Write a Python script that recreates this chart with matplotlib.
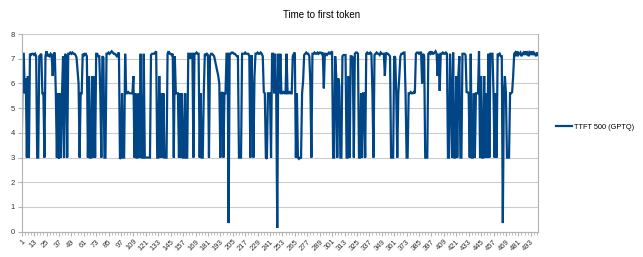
import matplotlib
matplotlib.use("Agg")
import matplotlib.pyplot as plt
from matplotlib.ticker import MultipleLocator

plt.rcParams["font.family"] = ["Liberation Sans", "DejaVu Sans"]

title = "Time to first token"
series_name = "TTFT 500 (GPTQ)"

ttft = [
    3.0, 7.2, 7.2, 5.6, 6.2, 3.0, 6.3, 3.0, 7.2, 7.15,
    7.2, 7.2, 7.15, 7.2, 7.1, 3.0, 3.0, 7.1, 7.15, 7.2,
    5.6, 5.6, 3.0, 7.1, 7.3, 7.1, 7.15, 7.1, 7.2, 7.15,
    6.3, 7.2, 7.25, 5.6, 3.0, 5.6, 2.95, 5.6, 3.0, 5.6,
    7.1, 3.0, 7.2, 7.1, 3.0, 7.2, 7.2, 7.25, 7.2, 7.25,
    7.2, 7.2, 7.15, 7.05, 6.5, 6.0, 3.0, 5.6, 5.6, 7.2,
    7.1, 7.2, 7.2, 7.1, 3.0, 6.3, 3.0, 3.0, 6.3, 3.0,
    6.3, 3.0, 7.2, 7.2, 7.1, 7.1, 5.6, 3.0, 7.1, 7.05,
    3.0, 3.0, 7.2, 7.2, 7.25, 7.2, 7.25, 7.3, 7.25, 7.2,
    7.2, 7.15, 7.1, 7.2, 7.25, 2.95, 3.0, 5.6, 3.0, 3.0,
    7.2, 5.6, 5.6, 5.65, 5.6, 5.6, 5.6, 5.6, 6.3, 3.0,
    5.6, 3.0, 3.0, 5.6, 3.0, 7.2, 3.0, 3.0, 7.2, 3.0,
    3.0, 3.0, 3.0, 3.0, 3.0, 7.15, 7.2, 7.2, 7.2, 7.25,
    7.3, 3.0, 3.0, 6.3, 3.0, 5.6, 3.0, 5.6, 3.0, 3.0,
    3.0, 7.2, 7.3, 7.2, 7.2, 7.15, 7.2, 3.0, 7.1, 5.6,
    5.6, 5.6, 3.0, 5.6, 3.0, 5.6, 3.0, 3.0, 5.6, 3.0,
    3.0, 7.2, 7.2, 7.0, 7.2, 7.2, 3.0, 7.2, 7.2, 7.25,
    7.2, 7.2, 3.0, 5.6, 3.0, 3.0, 5.6, 7.2, 7.15, 7.2,
    7.15, 3.0, 7.1, 7.2, 7.2, 7.15, 7.1, 6.9, 6.7, 6.5,
    6.3, 6.0, 3.0, 5.6, 5.65, 3.0, 5.6, 5.6, 7.2, 7.2,
    0.35, 7.2, 7.2, 7.25, 7.25, 7.2, 7.2, 7.15, 7.1, 7.1,
    3.0, 3.0, 3.0, 7.2, 7.2, 7.2, 7.25, 7.2, 7.2, 7.2,
    7.1, 3.0, 7.15, 5.6, 3.0, 6.3, 7.2, 7.2, 7.25, 7.2,
    7.2, 7.25, 7.2, 7.1, 5.65, 5.6, 3.0, 2.95, 5.6, 5.6,
    5.6, 3.0, 7.2, 7.2, 5.6, 7.2, 5.6, 0.15, 7.2, 5.6,
    7.2, 5.6, 5.6, 5.65, 5.6, 5.6, 7.2, 5.6, 5.6, 5.65,
    5.6, 5.6, 7.1, 7.2, 7.25, 3.0, 5.6, 3.0, 2.95, 3.0,
    3.0, 5.6, 6.1, 7.15, 7.2, 7.25, 7.2, 7.2, 7.1, 6.0,
    3.0, 7.2, 7.2, 7.25, 7.2, 7.2, 7.25, 7.2, 7.25, 7.25,
    7.2, 7.25, 5.8, 7.2, 7.2, 7.15, 7.2, 7.25, 7.2, 7.25,
    7.3, 3.0, 3.0, 7.1, 6.3, 3.0, 6.2, 5.9, 3.0, 3.0,
    7.1, 7.15, 7.15, 7.15, 3.0, 3.0, 6.3, 3.0, 7.1, 7.1,
    7.05, 3.0, 7.2, 7.25, 7.25, 7.2, 3.0, 3.0, 5.6, 3.0,
    5.6, 5.6, 3.0, 7.2, 7.25, 7.2, 7.2, 7.25, 7.2, 5.6,
    3.0, 7.15, 7.2, 7.25, 7.2, 7.2, 7.15, 7.25, 7.2, 7.2,
    7.2, 6.3, 7.25, 7.2, 7.2, 7.15, 7.1, 3.0, 3.0, 3.0,
    7.1, 7.05, 5.6, 3.0, 5.6, 6.3, 7.1, 7.2, 7.2, 7.25,
    7.25, 5.6, 3.0, 3.0, 5.6, 5.6, 5.65, 5.6, 5.6, 5.65,
    5.6, 7.2, 7.25, 7.25, 7.2, 7.25, 7.25, 6.0, 7.2, 7.1,
    3.0, 3.0, 3.0, 7.2, 7.25, 7.2, 7.3, 7.2, 7.2, 7.25,
    7.3, 7.2, 6.3, 7.2, 5.7, 7.2, 7.2, 7.25, 7.2, 7.2,
    7.25, 7.2, 3.0, 3.0, 7.2, 5.6, 3.0, 7.25, 3.0, 3.0,
    6.3, 3.0, 6.3, 7.1, 3.0, 3.0, 7.2, 7.2, 7.2, 7.15,
    5.65, 5.65, 5.6, 3.0, 7.2, 3.0, 3.0, 5.6, 3.0, 5.6,
    5.6, 5.6, 7.3, 3.0, 6.3, 3.0, 3.0, 6.3, 3.0, 5.6,
    3.0, 7.2, 3.0, 7.2, 7.2, 7.2, 5.6, 3.0, 5.6, 3.0,
    7.2, 7.15, 7.2, 7.1, 7.1, 0.35, 5.6, 6.3, 5.6, 3.0,
    3.0, 3.0, 5.6, 5.6, 5.65, 6.3, 7.2, 7.25, 7.1, 7.3,
    7.15, 7.2, 7.25, 7.1, 7.2, 7.25, 7.15, 7.3, 7.2, 7.25,
    7.1, 7.25, 7.2, 7.3, 7.15, 7.25, 7.2, 7.1, 7.25, 7.15,
]

categories = list(range(1, len(ttft) + 1))
label_step = 12
y_ticks = [0, 1, 2, 3, 4, 5, 6, 7, 8]

fig = plt.figure(figsize=(6.43, 2.57), dpi=100)
ax = fig.add_axes([0.0337, 0.0984, 0.8030, 0.7693])

xs = list(range(len(ttft)))
line, = ax.plot(xs, ttft, color="#004586", linewidth=1.6, solid_joinstyle="miter",
                label=series_name)

ax.set_xlim(0, len(ttft) - 1)
ax.set_ylim(0, 8)
ax.set_yticks(y_ticks)
ax.set_yticklabels([str(v) for v in y_ticks], fontsize=5.5, color="#333333")
ax.yaxis.grid(True, color="#cccccc", linewidth=0.8)
ax.set_axisbelow(True)

tick_pos = xs[::label_step]
ax.set_xticks(tick_pos)
ax.set_xticklabels([str(categories[i]) for i in tick_pos], rotation=45,
                   ha="right", va="top", rotation_mode="anchor",
                   fontsize=5.5, color="#333333")
ax.xaxis.set_minor_locator(MultipleLocator(3))
ax.tick_params(axis="x", which="major", length=3, color="#b3b3b3", pad=1.5)
ax.tick_params(axis="x", which="minor", length=2, color="#b3b3b3")
ax.tick_params(axis="y", length=3, color="#b3b3b3", pad=2)

for side in ["left", "bottom", "right", "top"]:
    ax.spines[side].set_color("#b3b3b3")
    ax.spines[side].set_linewidth(0.8)
ax.spines["top"].set_visible(False)

fig.text(0.5, 0.94, title, ha="center", va="center", fontsize=7, color="#000000")

fig.legend(handles=[line], loc="center left", bbox_to_anchor=(0.864, 0.505),
           frameon=False, fontsize=5.3, handlelength=2.2, handletextpad=0.35,
           borderpad=0.0, borderaxespad=0.0)

fig.savefig("out.png", dpi=100)
